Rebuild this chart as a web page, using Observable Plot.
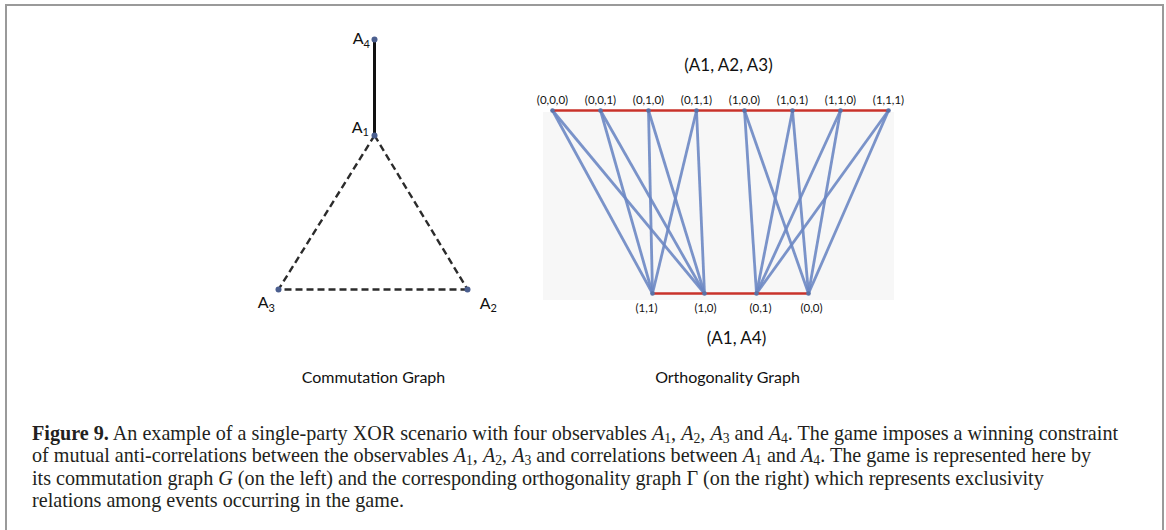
<!DOCTYPE html>
<html>
<head>
<meta charset="utf-8">
<script src="https://cdn.jsdelivr.net/npm/d3@7"></script>
<script src="https://cdn.jsdelivr.net/npm/@observablehq/plot@0.6"></script>
<style>
  html, body { margin: 0; padding: 0; background: #fff; }
  #wrap { position: relative; width: 1166px; height: 530px; overflow: hidden; background: #fff; }
  #frame { position: absolute; left: 5px; top: 4px; width: 1155px; height: 600px;
           border-top: 2px solid #9a9a9a; border-left: 2px solid #9a9a9a; border-right: 2px solid #9a9a9a; }
  #chart { position: absolute; left: 0; top: 0; }
  #caption { position: absolute; left: 32px; top: 422px; white-space: nowrap;
             font-family: "Liberation Serif", "Times New Roman", serif; font-size: 20.15px;
             line-height: 22.3px; color: #231f20; }
  #caption sub { font-size: 0.68em; line-height: 0; vertical-align: baseline; position: relative; top: 0.22em; }
  #caption i { font-style: italic; }
</style>
</head>
<body>
<div id="wrap">
  <div id="frame"></div>
  <div id="chart"></div>
  <div id="caption"><b>Figure 9.</b> An example of a single-party XOR scenario with four observables <i>A</i><sub>1</sub>, <i>A</i><sub>2</sub>, <i>A</i><sub>3</sub> and <i>A</i><sub>4</sub>. The game imposes a winning constraint<br>of mutual anti-correlations between the observables <i>A</i><sub>1</sub>, <i>A</i><sub>2</sub>, <i>A</i><sub>3</sub> and correlations between <i>A</i><sub>1</sub> and <i>A</i><sub>4</sub>. The game is represented here by<br>its commutation graph <i>G</i> (on the left) and the corresponding orthogonality graph Γ (on the right) which represents exclusivity<br>relations among events occurring in the game.</div>
</div>
<script>
// ---------- data ----------
const observables = ["A1", "A2", "A3", "A4"];
const commEdges = [
  ["A1", "A2", "anti"],
  ["A1", "A3", "anti"],
  ["A2", "A3", "anti"],
  ["A1", "A4", "corr"]
];
const topContext = "(A1, A2, A3)";
const bottomContext = "(A1, A4)";
const topEvents = ["(0,0,0)", "(0,0,1)", "(0,1,0)", "(0,1,1)", "(1,0,0)", "(1,0,1)", "(1,1,0)", "(1,1,1)"];
const bottomEvents = ["(1,1)", "(1,0)", "(0,1)", "(0,0)"];
const graphTitles = ["Commutation Graph", "Orthogonality Graph"];

// ---------- layout ----------
const W = 1166, H = 405;
const L = {
  comm: { cx: 374, apexY: 135, baseY: 289, half: 95, stemY: 39 },
  orth: { topY: 110, botY: 293, topX: [552, 888], botX: [652, 808] },
  bg: { x1: 543, x2: 894, y1: 112, y2: 300 }
};

// commutation graph node positions (triangle + stem)
const cpos = {
  A1: [L.comm.cx, L.comm.apexY],
  A2: [L.comm.cx + L.comm.half - 2, L.comm.baseY],
  A3: [L.comm.cx - L.comm.half - 1, L.comm.baseY],
  A4: [L.comm.cx, L.comm.stemY]
};
const commNodes = observables.map(o => ({ id: o, x: cpos[o][0], y: cpos[o][1] }));
const commLinks = commEdges.map(([a, b, t]) => ({ x1: cpos[a][0], y1: cpos[a][1], x2: cpos[b][0], y2: cpos[b][1], type: t }));

// orthogonality graph
const tx = d3.scalePoint().domain(topEvents).range(L.orth.topX);
const bx = d3.scalePoint().domain(bottomEvents).range(L.orth.botX);
const topNodes = topEvents.map(e => ({ id: e, x: tx(e), y: L.orth.topY }));
const botNodes = bottomEvents.map(e => ({ id: e, x: bx(e), y: L.orth.botY }));
const bit = s => s.replace(/[()]/g, "").split(",");
// exclusive events across contexts: different value of the shared observable A1
const crossLinks = [];
for (const t of topNodes) for (const b of botNodes) {
  if (bit(t.id)[0] !== bit(b.id)[0]) crossLinks.push({ x1: t.x, y1: t.y, x2: b.x, y2: b.y });
}
// within-context exclusivity (drawn as a red line through the nodes)
const redLinks = [];
for (let i = 1; i < topNodes.length; i++) redLinks.push({ x1: topNodes[i-1].x, y1: L.orth.topY, x2: topNodes[i].x, y2: L.orth.topY });
for (let i = 1; i < botNodes.length; i++) redLinks.push({ x1: botNodes[i-1].x, y1: L.orth.botY, x2: botNodes[i].x, y2: L.orth.botY });

// commutation labels: letter + subscript, joined at (x, y)
const labelOff = { A4: [-11, -0.5], A1: [-12, -8], A3: [-10, 13.5], A2: [23, 14] };
const commLabels = commNodes.map(n => ({ x: n.x + labelOff[n.id][0], y: n.y + labelOff[n.id][1], main: n.id[0], sub: n.id.slice(1) }));

const titles = [
  { x: 373, y: 377, text: graphTitles[0], size: 16 },
  { x: 727, y: 377, text: graphTitles[1], size: 16 },
  { x: 728, y: 65, text: topContext, size: 17 },
  { x: 736, y: 338, text: bottomContext, size: 17 }
];
const botLabelShift = [-6, 1, 4, 3];

const font = "Lato, 'Open Sans', sans-serif";
const chart = Plot.plot({
  width: W, height: H,
  margin: 0,
  x: { domain: [0, W], range: [0, W], axis: null },
  y: { domain: [0, H], range: [0, H], axis: null },
  style: { fontFamily: font, background: "transparent", overflow: "visible" },
  marks: [
    Plot.rect([L.bg], { x1: "x1", x2: "x2", y1: "y1", y2: "y2", fill: "#f7f7f7" }),
    // commutation graph
    Plot.link(commLinks.filter(d => d.type === "anti"), { x1: "x1", y1: "y1", x2: "x2", y2: "y2", stroke: "#2b2b2b", strokeWidth: 2.4, strokeDasharray: "7,4" }),
    Plot.link(commLinks.filter(d => d.type === "corr"), { x1: "x1", y1: "y1", x2: "x2", y2: "y2", stroke: "#111", strokeWidth: 3 }),
    Plot.dot(commNodes, { x: "x", y: "y", r: 3, fill: "#4b5f8f", stroke: "none" }),
    Plot.text(commLabels, { x: "x", y: "y", text: "main", fontSize: 16, textAnchor: "end", fill: "#111" }),
    Plot.text(commLabels, { x: "x", y: "y", text: "sub", fontSize: 11, textAnchor: "start", fill: "#111", dy: 5 }),
    // orthogonality graph
    Plot.link(crossLinks, { x1: "x1", y1: "y1", x2: "x2", y2: "y2", stroke: "#6b87c3", strokeOpacity: 0.9, strokeWidth: 2.8 }),
    Plot.link(redLinks, { x1: "x1", y1: "y1", x2: "x2", y2: "y2", stroke: "#c8322a", strokeWidth: 2.6 }),
    Plot.dot(topNodes.concat(botNodes), { x: "x", y: "y", r: 2.3, fill: "#5a72a6", stroke: "none" }),
    Plot.text(topNodes, { x: "x", y: "y", text: "id", dy: -10, fontSize: 11.5, fill: "#111" }),
    Plot.text(botNodes, { x: (d, i) => d.x + botLabelShift[i], y: "y", text: "id", dy: 15, fontSize: 11.5, fill: "#111" }),
    Plot.text(titles, { x: "x", y: "y", text: "text", fontSize: d => d.size, fill: "#111" })
  ]
});
document.getElementById("chart").appendChild(chart);
</script>
</body>
</html>
